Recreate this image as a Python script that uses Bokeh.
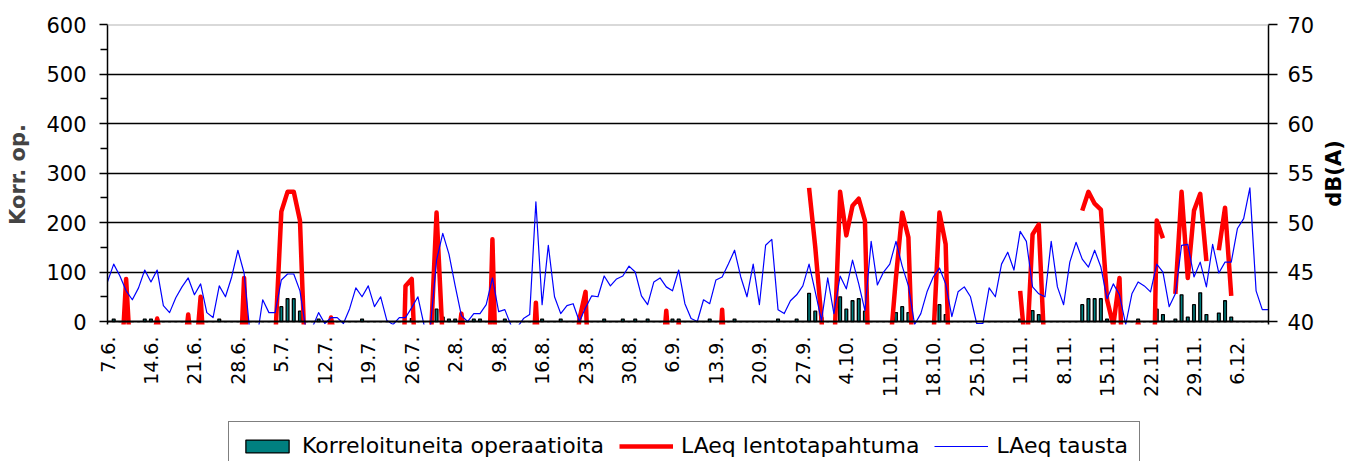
import math
from bokeh.plotting import figure
from bokeh.layouts import column
from bokeh.models import (Range1d, LinearAxis, FixedTicker, Span, Legend,
                          LegendItem, ColumnDataSource)
from bokeh.embed import file_html
from bokeh.resources import INLINE

FONT = "DejaVu Sans"

# x tick labels (every 7th day starting at 7.6.)
tick_labels = ["7.6.", "14.6.", "21.6.", "28.6.", "5.7.", "12.7.", "19.7.", "26.7.",
               "2.8.", "9.8.", "16.8.", "23.8.", "30.8.", "6.9.", "13.9.", "20.9.",
               "27.9.", "4.10.", "11.10.", "18.10.", "25.10.", "1.11.", "8.11.",
               "15.11.", "22.11.", "29.11.", "6.12."]
tick_step = 7

# Korreloituneita operaatioita (left axis), one value per day
korreloituneita = [
    0, 5, 0, 0, 0, 0, 5, 5, 5, 0, 0, 0, 0, 0, 0, 0, 0, 0, 5, 0,
    0, 0, 0, 0, 0, 0, 0, 0, 30, 46, 46, 21, 0, 0, 5, 0, 0, 0, 0, 0,
    0, 5, 0, 0, 0, 0, 0, 0, 0, 6, 0, 0, 0, 25, 9, 5, 5, 0, 0, 5,
    5, 0, 25, 0, 5, 0, 0, 0, 0, 0, 5, 0, 0, 5, 0, 0, 0, 0, 0, 0,
    5, 0, 0, 5, 0, 5, 0, 5, 0, 0, 0, 5, 5, 0, 0, 0, 0, 5, 0, 0,
    0, 5, 0, 0, 0, 0, 0, 0, 5, 0, 0, 5, 0, 57, 21, 8, 0, 0, 50, 25,
    42, 46, 21, 0, 0, 0, 0, 18, 30, 18, 0, 0, 0, 0, 34, 14, 0, 0, 0, 0,
    0, 0, 0, 0, 0, 0, 0, 5, 0, 22, 14, 0, 0, 0, 0, 0, 0, 34, 46, 46,
    46, 5, 3, 0, 0, 0, 5, 0, 0, 25, 14, 0, 5, 54, 9, 34, 58, 14, 0, 17,
    42, 9, 0, 0, 0, 0, 0, 0]

# LAeq lentotapahtuma, dB(A) (right axis); None = no value
N = None
laeq_lentotapahtuma = [
    N, N, 33, 44.3, 33, N, N, 37, 40.3, 37, N, N, 35, 40.7, 35, 42.5, 32, N, N, N,
    N, 30, 44.4, 30, N, N, N, 38, 51.1, 53.1, 53.1, 50.2, 33, N, N, 37, 40.4, 37, N, N,
    N, N, N, N, N, N, N, 20, 43.6, 44.3, 30, N, 37, 51.0, 38, N, 36, 40.8, 36, N,
    N, 25, 48.3, 25, N, N, N, N, 30, 41.9, 30, N, N, N, N, 34, 40.2, 43.0, 25, N,
    N, N, N, N, N, N, N, N, N, 33, 41.1, 33, 39.9, 33, N, N, N, N, 30, 41.2,
    30, N, N, N, N, N, N, N, N, N, N, N, N, 53.5, 47.5, 40.2, 30, 36.5, 53.1, 48.7,
    51.7, 52.4, 50.2, 25, N, N, 37, 44.5, 51.0, 48.5, 30, N, N, 38, 51.0, 47.8, 25, N, N, N,
    N, N, N, N, N, N, N, 43.1, 36.2, 48.8, 49.8, 36, N, N, N, N, N, 51.2, 53.1, 51.9,
    51.3, 42.2, 39.6, 44.4, 25, 37, 39.9, 37, 15, 50.2, 48.4, N, 42.8, 53.1, 44.4, 51.2, 52.9, 46.1, N, 47.2,
    51.5, 42.6, N, N, N, N, N, N]

# LAeq tausta, dB(A) (right axis)
laeq_tausta = [
    44.0, 45.8, 44.6, 43.1, 42.2, 43.4, 45.2, 44.0, 45.2, 41.6, 40.9, 42.4, 43.5, 44.4, 42.7, 43.8, 40.9, 40.4, 43.6, 42.5,
    44.5, 47.2, 44.9, 38.5, 38.0, 42.2, 40.9, 40.9, 44.2, 44.8, 44.8, 43.1, 39.0, 39.4, 40.9, 39.8, 40.4, 40.4, 39.8, 41.3,
    43.4, 42.5, 43.6, 41.5, 42.5, 40.1, 39.7, 40.4, 40.4, 41.4, 42.5, 39.6, 39.4, 46.2, 48.9, 46.8, 43.6, 40.6, 40.0, 40.8,
    40.8, 41.7, 44.4, 41.0, 41.2, 39.6, 39.4, 40.3, 40.7, 52.1, 41.7, 47.7, 42.5, 40.8, 41.6, 41.8, 40.0, 41.4, 42.6, 42.5,
    44.6, 43.6, 44.3, 44.6, 45.6, 45.0, 42.6, 41.7, 44.0, 44.4, 43.5, 43.1, 45.2, 41.8, 40.3, 40.0, 42.2, 41.8, 44.2, 44.5,
    45.8, 47.2, 44.5, 42.5, 45.8, 41.7, 47.7, 48.3, 41.2, 40.8, 42.1, 42.7, 43.6, 45.8, 43.0, 40.1, 44.4, 40.8, 44.6, 43.3,
    46.2, 43.8, 41.1, 48.1, 43.7, 45.0, 45.8, 48.1, 45.6, 43.6, 39.7, 40.8, 43.0, 44.5, 45.4, 43.8, 40.5, 43.0, 43.5, 42.5,
    39.8, 39.8, 43.4, 42.5, 45.8, 47.0, 45.2, 49.1, 48.1, 43.5, 42.8, 42.5, 48.1, 43.5, 41.7, 46.0, 48.0, 46.3, 45.5, 47.2,
    45.5, 42.3, 43.8, 42.7, 39.7, 42.8, 44.0, 43.6, 43.0, 45.8, 45.0, 41.5, 42.8, 47.7, 47.8, 44.5, 46.0, 43.5, 47.8, 44.9,
    46.0, 46.0, 49.4, 50.4, 53.5, 43.1, 41.2, 41.2]

n_days = len(laeq_tausta)
days = list(range(n_days))

src = ColumnDataSource(dict(
    x=days,
    ops=korreloituneita,
    lento=[float("nan") if v is None else v for v in laeq_lentotapahtuma],
    tausta=laeq_tausta,
))

W = 1361
H_MAIN = 410
H_LEG = 51
Y0 = -6  # a few px below zero so thick lines are clipped just under the axis

p = figure(width=W, height=H_MAIN, output_backend="svg", toolbar_location=None,
           x_range=Range1d(0, n_days - 1), y_range=Range1d(Y0, 600),
           min_border_left=107, min_border_right=W - 1268, min_border_top=24,
           min_border_bottom=H_MAIN - 324, background_fill_color="white",
           border_fill_color="white")
p.outline_line_color = None
p.extra_y_ranges = {"db": Range1d(40 + Y0 * 30 / 600, 70)}

# grid
p.xgrid.grid_line_color = None
p.ygrid.ticker = FixedTicker(ticks=[100, 200, 300, 400, 500])
p.ygrid.grid_line_color = "black"
p.ygrid.grid_line_width = 1.3

p.add_layout(Span(location=600, dimension="width", line_color="#b4b4b4", line_width=2))
p.add_layout(Span(location=0, dimension="width", line_color="black", line_width=2))

# left axis
ya = p.yaxis[0]
ya.ticker = FixedTicker(ticks=list(range(0, 601, 100)), minor_ticks=list(range(50, 600, 100)))
ya.axis_label = "Korr. op."
ya.axis_label_text_font = FONT
ya.axis_label_text_font_style = "bold"
ya.axis_label_text_font_size = "21px"
ya.axis_label_standoff = 13
ya.major_label_text_font = FONT
ya.major_label_text_font_size = "21px"
ya.major_label_text_color = "black"
ya.major_label_standoff = 13
ya.axis_line_width = 1.5
ya.major_tick_out = 8
ya.major_tick_in = 0
ya.minor_tick_out = 7
ya.minor_tick_in = 0
ya.major_tick_line_width = 1.5
ya.minor_tick_line_width = 1.5

# right axis
ra = LinearAxis(y_range_name="db", ticker=FixedTicker(ticks=list(range(40, 71, 5))))
ra.major_label_text_font = FONT
ra.major_label_text_font_size = "21px"
ra.major_label_text_color = "black"
ra.major_label_standoff = 10
ra.axis_line_width = 1.5
ra.major_tick_out = 9
ra.major_tick_in = 0
ra.major_tick_line_width = 1.5
ra.minor_tick_line_color = None
p.add_layout(ra, "right")

# right axis title, drawn as one rotated label (reads bottom to top, starts at its anchor)
TITLE_ANCHOR = 51.6
rt = LinearAxis(y_range_name="db", ticker=FixedTicker(ticks=[TITLE_ANCHOR]))
rt.major_label_overrides = {TITLE_ANCHOR: "dB(A)"}
rt.major_label_orientation = math.pi / 2
rt.major_label_text_font = FONT
rt.major_label_text_font_style = "bold"
rt.major_label_text_font_size = "21px"
rt.major_label_text_color = "black"
rt.major_label_standoff = 17
rt.axis_line_color = None
rt.major_tick_line_color = None
rt.minor_tick_line_color = None
rt.major_tick_out = 0
rt.major_tick_in = 0
p.add_layout(rt, "right")

# x axis
xa = p.xaxis[0]
xticks = [i * tick_step for i in range(len(tick_labels))]
xa.ticker = FixedTicker(ticks=xticks)
xa.major_label_overrides = {t: lab for t, lab in zip(xticks, tick_labels)}
xa.major_label_orientation = math.pi / 2
xa.major_label_text_font = FONT
xa.major_label_text_font_size = "19px"
xa.major_label_text_color = "black"
xa.major_label_standoff = 12
xa.axis_line_color = None
xa.major_tick_line_color = None
xa.minor_tick_line_color = None
xa.major_tick_out = 0
xa.major_tick_in = 0

# glyphs
bar_style = dict(fill_color="#008080", line_color="black", line_width=1.3)
red_style = dict(line_color="#ff0000", line_width=4.5, line_join="round")
blue_style = dict(line_color="#0000ff", line_width=1.2, line_join="round")

p.vbar(x="x", top="ops", bottom=0, width=0.45, source=src, **bar_style)
p.line(x="x", y="lento", source=src, y_range_name="db", **red_style)
p.line(x="x", y="tausta", source=src, y_range_name="db", **blue_style)

# legend strip below the chart: legend-only (hidden) renderers with the same styles
pl = figure(width=W, height=H_LEG, output_backend="svg", toolbar_location=None,
            x_axis_location=None, y_axis_location=None,
            x_range=Range1d(0, n_days - 1), y_range=Range1d(1000, 1100), min_border=0,
            background_fill_color="white", border_fill_color="white")
pl.outline_line_color = None
pl.grid.grid_line_color = None
lb = pl.vbar(x="x", top="ops", bottom=0, width=0.45, source=src, **bar_style)
lr = pl.line(x="x", y="lento", source=src, **red_style)
lbl = pl.line(x="x", y="tausta", source=src, **blue_style)
for r in (lb, lr, lbl):
    r.visible = False

legend = Legend(items=[
    LegendItem(label="Korreloituneita operaatioita", renderers=[lb]),
    LegendItem(label="LAeq lentotapahtuma", renderers=[lr]),
    LegendItem(label="LAeq tausta", renderers=[lbl]),
], location=(228 - 107, -9), orientation="horizontal")
legend.label_text_font = FONT
legend.label_text_font_size = "22px"
legend.label_text_color = "black"
legend.glyph_width = 54
legend.glyph_height = 16
legend.label_standoff = 8
legend.spacing = 15
legend.padding = 11
legend.margin = 0
legend.border_line_color = "black"
legend.border_line_width = 1.5
legend.background_fill_color = "white"
legend.background_fill_alpha = 1.0
legend.inactive_fill_alpha = 0.0
pl.add_layout(legend, "center")

layout = column(p, pl, spacing=0)
open("out.html", "w").write(file_html(layout, INLINE))
